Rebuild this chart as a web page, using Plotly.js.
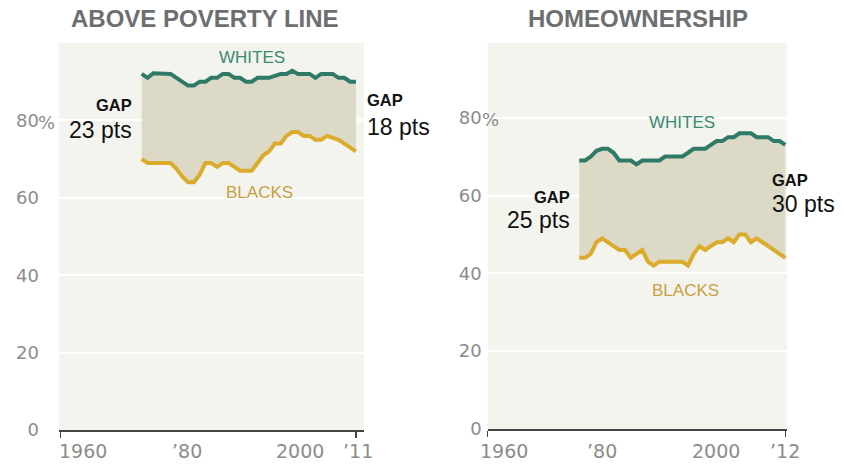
<!DOCTYPE html>
<html>
<head>
<meta charset="utf-8">
<script src="https://cdn.plot.ly/plotly-3.0.1.min.js"></script>
<style>html,body{margin:0;padding:0;background:#fff;}#chart{width:844px;height:466px;}</style>
</head>
<body>
<div id="chart"></div>
<script>
// ---- Data: Above poverty line (%), 1974-2011 ----
var povertyYears = [1974,1975,1976,1977,1978,1979,1980,1981,1982,1983,1984,1985,1986,1987,1988,1989,1990,1991,1992,1993,1994,1995,1996,1997,1998,1999,2000,2001,2002,2003,2004,2005,2006,2007,2008,2009,2010,2011];
var povertyWhites = [92,91,92.2,92.2,92.2,92,91,90,89,89,90,90,91,91,92,92,91,91,90,90,91,91,91,91.5,92,92,92.8,92,92,92,91,92,92,92,91,91,90,90];
var povertyBlacks = [70,69,69,69,69,69,67.5,65.5,64,64,66,69,69,68,69,69,68,67,67,67,69,71,72,74,74,76,77,77,76,76,75,75,76,75.5,75,74,73,72];

// ---- Data: Homeownership (%), 1976-2012 ----
var homeYears = [1976,1977,1978,1979,1980,1981,1982,1983,1984,1985,1986,1987,1988,1989,1990,1991,1992,1993,1994,1995,1996,1997,1998,1999,2000,2001,2002,2003,2004,2005,2006,2007,2008,2009,2010,2011,2012];
var homeWhites = [69,69,70,71.5,72,72,71,69,69,69,68,69,69,69,69,70,70,70,70,71,72,72,72,73,74,74,75,75,76,76,76,75,75,75,74,74,73];
var homeBlacks = [44,44,45,48,49,48,47,46,46,44,45,46,43,42,43,43,43,43,43,42,45,47,46,47,48,48,49,48,50,50,48,49,48,47,46,45,44];

// ---- Tick labels ----
var yTickVals = [0,20,40,60,80];
var yTickText = ['0','20','40','60','80'];
var leftXTickVals = [1960,1980,2000,2011];
var leftXTickText = ['1960','\u201980','2000','\u201911'];
var rightXTickVals = [1960,1980,2000,2012];
var rightXTickText = ['1960','\u201980','2000','\u201912'];

var titles = ['ABOVE POVERTY LINE','HOMEOWNERSHIP'];

// ---- Style ----
var W = 844, H = 466;
var cWhite = '#2f7a66', cBlack = '#dbab2b', cFill = '#dcd9c6';
var cWhiteText = '#3a8a72', cBlackText = '#c8a041';
var tickFont = {family:'DejaVu Sans, sans-serif', size:18, color:'#8c8c8c'};
var xTickFont = {family:'DejaVu Sans, sans-serif', size:19, color:'#8c8c8c'};
var txtFont = 'Liberation Sans, Arial, sans-serif';
function px(x){return x/W;}
function py(y){return 1 - y/H;}

var traces = [];
function addPanel(xs, wh, bl, xa, ya){
  traces.push({x:xs, y:wh, xaxis:xa, yaxis:ya, mode:'lines', line:{width:0, color:cFill}, hoverinfo:'skip', showlegend:false});
  traces.push({x:xs, y:bl, xaxis:xa, yaxis:ya, mode:'lines', line:{width:0, color:cFill}, fill:'tonexty', fillcolor:cFill, hoverinfo:'skip', showlegend:false});
  traces.push({x:xs, y:wh, xaxis:xa, yaxis:ya, mode:'lines', line:{width:4, color:cWhite}, showlegend:false});
  traces.push({x:xs, y:bl, xaxis:xa, yaxis:ya, mode:'lines', line:{width:4, color:cBlack}, showlegend:false});
}
addPanel(povertyYears, povertyWhites, povertyBlacks, 'x', 'y');
addPanel(homeYears, homeWhites, homeBlacks, 'x2', 'y2');

function xaxisDef(domain, range, tv){
  return {domain:domain, range:range, showgrid:false, zeroline:false, showline:true, linecolor:'#444', linewidth:1.5,
    tickvals:[tv[0], tv[tv.length-1]], ticks:'outside', ticklen:6, tickwidth:1.5, tickcolor:'#444', showticklabels:false, fixedrange:true};
}
function yaxisDef(domain, range, standoff, anchor){
  return {domain:domain, range:range, anchor:anchor, showgrid:true, gridcolor:'#ffffff', gridwidth:2, zeroline:false, showline:false,
    tickvals:yTickVals, ticktext:yTickText, ticks:'', tickfont:tickFont, ticklabelstandoff:standoff, fixedrange:true};
}

var ann = [];
function txt(text, x, y, xanchor, font){
  ann.push({text:text, xref:'paper', yref:'paper', x:px(x), y:py(y), xanchor:xanchor, yanchor:'middle', showarrow:false, font:font});
}
// titles
txt('<b>'+titles[0]+'</b>', 204.5, 18.5, 'center', {family:txtFont, size:24, color:'#6d6e70'});
txt('<b>'+titles[1]+'</b>', 638.3, 18.5, 'center', {family:txtFont, size:24, color:'#6d6e70'});
// series labels
txt('WHITES', 252, 57, 'center', {family:txtFont, size:17, color:cWhiteText});
txt('BLACKS', 259.5, 192.7, 'center', {family:txtFont, size:17, color:cBlackText});
txt('WHITES', 681.7, 122.7, 'center', {family:txtFont, size:17, color:cWhiteText});
txt('BLACKS', 685.7, 290.7, 'center', {family:txtFont, size:17, color:cBlackText});
// gap labels
var gapFont = {family:txtFont, size:16.5, color:'#111'};
var ptsFont = {family:txtFont, size:23, color:'#111'};
txt('<b>GAP</b>', 134, 105, 'right', gapFont);
txt('23 pts', 134, 130, 'right', ptsFont);
txt('<b>GAP</b>', 365, 100, 'left', gapFont);
txt('18 pts', 365, 127, 'left', ptsFont);
txt('<b>GAP</b>', 572, 196.7, 'right', gapFont);
txt('25 pts', 572, 220, 'right', ptsFont);
txt('<b>GAP</b>', 770, 180, 'left', gapFont);
txt('30 pts', 770, 204, 'left', ptsFont);
// percent suffix on the 80 labels
ann.push({text:'%', xref:'paper', yref:'y', x:px(36), y:80, xanchor:'left', yanchor:'middle', showarrow:false, font:tickFont, yshift:-2});
ann.push({text:'%', xref:'paper', yref:'y2', x:px(480), y:80, xanchor:'left', yanchor:'middle', showarrow:false, font:tickFont, yshift:-2});
// x tick labels
var leftShift = [22.6, 10.3, 7.3, 2];
var rightShift = [16.6, 0, -1, 0];
leftXTickVals.forEach(function(v,i){
  ann.push({text:leftXTickText[i], xref:'x', yref:'paper', x:v, y:py(451), xanchor:'center', yanchor:'middle', xshift:leftShift[i], showarrow:false, font:xTickFont});
});
rightXTickVals.forEach(function(v,i){
  ann.push({text:rightXTickText[i], xref:'x2', yref:'paper', x:v, y:py(451), xanchor:'center', yanchor:'middle', xshift:rightShift[i], showarrow:false, font:xTickFont});
});

var layout = {
  width:W, height:H, margin:{l:0, r:0, t:0, b:0},
  paper_bgcolor:'#ffffff', plot_bgcolor:'#f4f4ee', showlegend:false,
  xaxis: xaxisDef([px(59), px(364)], [1959.7, 2012.4], leftXTickVals),
  yaxis: yaxisDef([py(430), py(43)], [0, 100], 19, 'x'),
  xaxis2: xaxisDef([px(487.7), px(787)], [1960, 2012.3], rightXTickVals),
  yaxis2: yaxisDef([py(429), py(43)], [0, 99.2], 5, 'x2'),
  annotations: ann
};
layout.xaxis.anchor = 'y';
layout.xaxis2.anchor = 'y2';

Plotly.newPlot('chart', traces, layout, {displayModeBar:false, staticPlot:true});
</script>
</body>
</html>
